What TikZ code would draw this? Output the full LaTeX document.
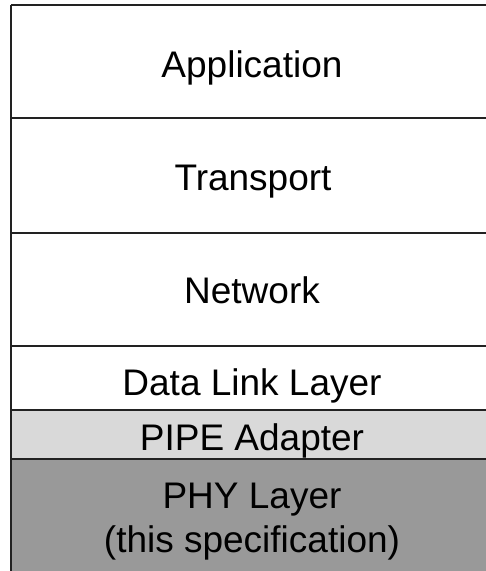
\documentclass[tikz,border=0pt]{standalone}
\usepackage{fontspec}
\setmainfont{Liberation Sans}
\definecolor{lineC}{HTML}{222222}
\definecolor{pipeC}{HTML}{D9D9D9}
\definecolor{phyC}{HTML}{999999}
\begin{document}
\begin{tikzpicture}[x=1pt,y=-1pt,
  lbl/.style={anchor=base, inner sep=0pt, align=center, font=\fontsize{37}{44}\selectfont, text=black},
  sep/.style={draw=lineC, line width=2pt}]
\useasboundingbox (0,0) rectangle (486,571);
\fill[white] (0,0) rectangle (486,571);
\fill[pipeC] (11,410) rectangle (486,459);
\fill[phyC] (11,459) rectangle (486,571);
\coordinate (l0) at (11,5);  \coordinate (r0) at (486,5);
\coordinate (l1) at (11,118); \coordinate (r1) at (486,118);
\coordinate (l2) at (11,233); \coordinate (r2) at (486,233);
\coordinate (l3) at (11,346); \coordinate (r3) at (486,346);
\coordinate (l4) at (11,410); \coordinate (r4) at (486,410);
\coordinate (l5) at (11,459); \coordinate (r5) at (486,459);
\coordinate (lb) at (11,571);
\draw[sep] (l0) -- (r0);
\draw[sep] (l1) -- (r1);
\draw[sep] (l2) -- (r2);
\draw[sep] (l3) -- (r3);
\draw[sep] (l4) -- (r4);
\draw[sep] (l5) -- (r5);
\draw[sep] (l0) -- (lb);
\node[lbl] (app) at (252,77) {Application};
\node[lbl] (trn) at (253,190) {Transport};
\node[lbl] (net) at (252,303) {Network};
\node[lbl] (dll) at (252,395) {Data Link Layer};
\node[lbl] (pipe) at (252,450) {PIPE Adapter};
\node[lbl] (phy) at (252,552) {PHY Layer\\(this specification)};
\end{tikzpicture}
\end{document}
